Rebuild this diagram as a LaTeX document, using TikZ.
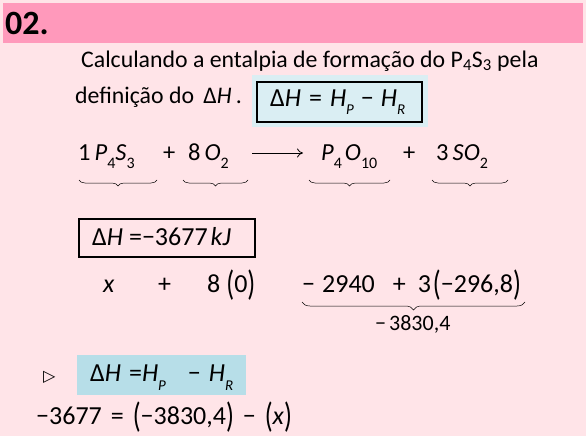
\documentclass[tikz,border=0pt]{standalone}
\usepackage{fontspec}
\usepackage{graphicx}
\setmainfont{Carlito}
\newfontfamily\symfont{DejaVu Sans}
\usetikzlibrary{positioning,decorations.pathreplacing,arrows.meta}

\definecolor{bgpink}{HTML}{FFE4E8}
\definecolor{barpink}{HTML}{FF99BB}
\definecolor{paleblue}{HTML}{DAEEF3}
\definecolor{keyblue}{HTML}{B7DEE8}

% variables, chemical indices, indices of H, tall brackets, gaps
\newcommand{\vr}[1]{\textit{#1}}
\newcommand{\idx}[1]{\raisebox{-8pt}{\fontsize{16}{16}\selectfont #1}}
\newcommand{\hidx}[1]{\raisebox{-9pt}{\fontsize{15}{15}\selectfont\itshape #1}}
\newcommand{\tallp}[1]{\raisebox{-3pt}{\scalebox{1}[1.35]{#1}}}
\newcommand{\dH}{\textup{Δ}\textit{H}}
\newcommand{\gap}[1]{\hspace{#1pt}}

\begin{document}
\begin{tikzpicture}[x=1pt,y=-1pt,
    txt/.style={anchor=base west,inner sep=0pt,font=\fontsize{23.8}{27}\selectfont},
    chem/.style={anchor=base west,inner sep=0pt,font=\fontsize{24.5}{28}\selectfont},
    eqn/.style={anchor=base west,inner sep=0pt,font=\fontsize{26}{30}\selectfont},
    ubrace/.style={decorate,decoration={brace,mirror,amplitude=6pt},line width=0.5pt}]
    \useasboundingbox (0,0) rectangle (586,436);
    \fill[bgpink] (0,0) rectangle (586,436);
    \fill[barpink] (3,3) rectangle (583,43);
    \node[anchor=base west,inner sep=0pt,font=\fontsize{34}{36}\selectfont\bfseries] (num) at (5,35) {02.};
    % statement
    \node[txt] (line1) at (81,67) {Calculando a entalpia de formação do P\textsubscript{4}S\textsubscript{3} pela};
    \node[txt] (line2) at (75,103) {definição do \gap{4}\dH\gap{4}.};
    \fill[paleblue] (252,75) rectangle (428,127);
    \draw[line width=1.5pt] (257,82) rectangle (422,122);
    \node[eqn] (defbox) at (270,106) {\dH\gap{8}=\gap{8}\vr{H}\hidx{P}\gap{7}−\gap{7}\vr{H}\hidx{R}};
    % reaction
    \node[chem] (reac1) at (78,160) {1\,\vr{P}\idx{4}\vr{S}\idx{3}};
    \node[chem] (plus1) at (163,160) {+};
    \node[chem] (reac2) at (188,160) {8\,\vr{O}\idx{2}};
    \node[chem] (prod1) at (321,160) {\vr{P}\idx{4}\gap{3}\vr{O}\idx{10}};
    \node[chem] (plus2) at (403,160) {+};
    \node[chem] (prod2) at (436,160) {3\,\vr{SO}\idx{2}};
    \coordinate (arrA) at (252,153);
    \coordinate (arrB) at (303,153);
    \draw[line width=0.8pt,-{To[length=6pt,width=9pt]}] (arrA) -- (arrB);
    \draw[ubrace] (79,180) -- (157,180);
    \draw[ubrace] (183,180) -- (248,180);
    \draw[ubrace] (309,180) -- (390,180);
    \draw[ubrace] (432,180) -- (508,180);
    % enthalpy given
    \draw[line width=1.5pt] (79,219) rectangle (255,257);
    \node[eqn] (given) at (92,245) {\dH\gap{6}=−3677\gap{3}\vr{kJ}};
    \node[eqn] (xval) at (103,292) {\vr{x}};
    \node[eqn] (plus3) at (158,292) {+};
    \node[eqn] (oxy) at (207,292) {8\gap{6}\tallp{(}0\tallp{)}};
    \node[eqn] (prodsum) at (302,292) {−\gap{7}2940\gap{18}+\gap{12}3\gap{2}\tallp{(}−296,8\tallp{)}};
    \draw[ubrace,decoration={amplitude=8pt}] (302,302) -- (525,302);
    \node[anchor=base west,inner sep=0pt,font=\fontsize{22}{25}\selectfont] (total) at (375,330) {−\gap{3}3830,4};
    % final
    \node[anchor=base west,inner sep=0pt,font=\fontsize{16}{18}\symfont] (tri) at (43,381) {▷};
    \fill[keyblue] (77,355) rectangle (246,395);
    \node[eqn] (defkey) at (90,381) {\dH\gap{8}=\vr{H}\hidx{P}\gap{22}−\gap{8}\vr{H}\hidx{R}};
    \node[eqn] (final) at (36,424) {−3677\gap{9}=\gap{9}\tallp{(}−3830,4\tallp{)}\gap{9}−\gap{9}\tallp{(}\vr{x}\tallp{)}};
\end{tikzpicture}
\end{document}
